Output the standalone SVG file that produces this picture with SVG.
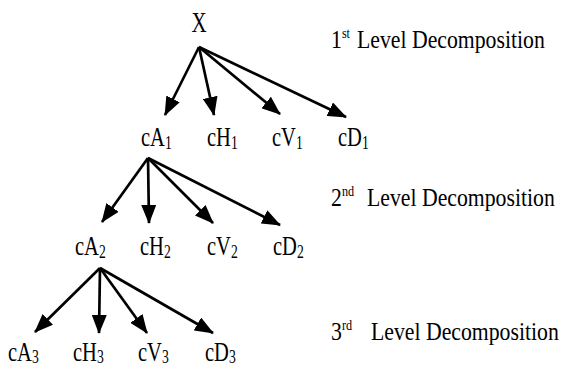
<svg xmlns="http://www.w3.org/2000/svg" width="561" height="367" viewBox="0 0 561 367">
<style>
.t{font-family:"Liberation Serif","Times New Roman",serif;font-size:27px;fill:#000}
.s{font-size:18px}
.lv{font-family:"Liberation Serif","Times New Roman",serif;font-size:25px;fill:#000}
.sup{font-size:14px}
.c line{stroke:#000;stroke-width:2.7;fill:none;marker-end:url(#ah)}
</style>
<defs>
<marker id="ah" markerUnits="userSpaceOnUse" markerWidth="19" markerHeight="15" refX="18" refY="7.5" orient="auto" viewBox="0 0 19 15">
<path d="M0,0 L19,7.5 L0,15 z" fill="#000"/>
</marker>
</defs>
<rect width="561" height="367" fill="#fff"/>
<g id="connectors" class="c">
<line x1="199" y1="47" x2="165" y2="115"/>
<line x1="199" y1="47" x2="214" y2="115"/>
<line x1="199" y1="47" x2="280" y2="114"/>
<line x1="199" y1="47" x2="346" y2="117"/>
<line x1="148" y1="158" x2="102" y2="222"/>
<line x1="148" y1="158" x2="149" y2="223"/>
<line x1="148" y1="158" x2="213" y2="223"/>
<line x1="148" y1="158" x2="280" y2="225"/>
<line x1="100" y1="268" x2="35" y2="332"/>
<line x1="100" y1="268" x2="99" y2="333"/>
<line x1="100" y1="268" x2="147" y2="333"/>
<line x1="100" y1="268" x2="213" y2="333"/>
</g>
<g id="X"><text class="t" style="font-size:30px" text-anchor="middle" transform="translate(199,32) scale(0.7,1)">X</text></g>
<g id="cA1"><text class="t" transform="translate(141,146) scale(0.76,1)">cA<tspan class="s" dy="3">1</tspan></text></g>
<g id="cH1"><text class="t" transform="translate(207,146) scale(0.76,1)">cH<tspan class="s" dy="3">1</tspan></text></g>
<g id="cV1"><text class="t" transform="translate(272,146) scale(0.76,1)">cV<tspan class="s" dy="3">1</tspan></text></g>
<g id="cD1"><text class="t" transform="translate(338,146) scale(0.76,1)">cD<tspan class="s" dy="3">1</tspan></text></g>
<g id="cA2"><text class="t" transform="translate(75,255) scale(0.76,1)">cA<tspan class="s" dy="3">2</tspan></text></g>
<g id="cH2"><text class="t" transform="translate(140,255) scale(0.76,1)">cH<tspan class="s" dy="3">2</tspan></text></g>
<g id="cV2"><text class="t" transform="translate(207,255) scale(0.76,1)">cV<tspan class="s" dy="3">2</tspan></text></g>
<g id="cD2"><text class="t" transform="translate(273,255) scale(0.76,1)">cD<tspan class="s" dy="3">2</tspan></text></g>
<g id="cA3"><text class="t" transform="translate(8,361) scale(0.76,1)">cA<tspan class="s" dy="2">3</tspan></text></g>
<g id="cH3"><text class="t" transform="translate(73,361) scale(0.76,1)">cH<tspan class="s" dy="2">3</tspan></text></g>
<g id="cV3"><text class="t" transform="translate(138,361) scale(0.76,1)">cV<tspan class="s" dy="2">3</tspan></text></g>
<g id="cD3"><text class="t" transform="translate(205,361) scale(0.76,1)">cD<tspan class="s" dy="2">3</tspan></text></g>
<g id="level1"><text class="lv" transform="translate(331,48) scale(0.87,1)">1<tspan class="sup" dy="-10">st</tspan><tspan x="29.9" dy="10">Level Decomposition</tspan></text></g>
<g id="level2"><text class="lv" transform="translate(331,206) scale(0.87,1)">2<tspan class="sup" dy="-10">nd</tspan><tspan x="41.4" dy="10">Level Decomposition</tspan></text></g>
<g id="level3"><text class="lv" transform="translate(331,340) scale(0.87,1)">3<tspan class="sup" dy="-10">rd</tspan><tspan x="46" dy="10">Level Decomposition</tspan></text></g>
</svg>
